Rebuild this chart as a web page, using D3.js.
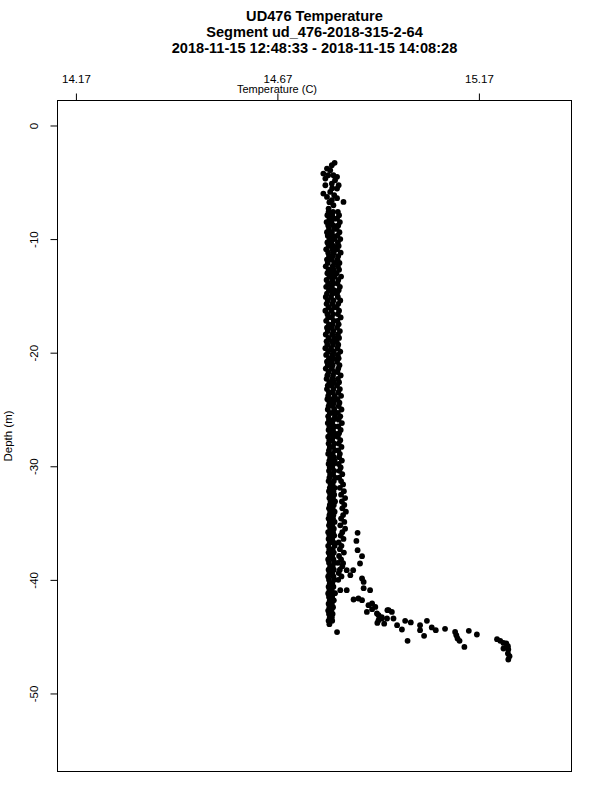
<!DOCTYPE html>
<html>
<head>
    <meta charset="utf-8">
    <style>
        body { margin: 0; background: #fff; }
        svg { display: block; font-family: 'Liberation Sans', Arial, sans-serif; }
        .title { font-weight: bold; font-size: 14.6px; }
        .axis text { font-size: 11.5px; fill: #000; }
    </style>
</head>
<body>
    <svg width="600" height="800"></svg>
<script src="https://d3js.org/d3.v7.min.js"></script>
<script>
    // chart text
    let titleLines = ["UD476 Temperature", "Segment ud_476-2018-315-2-64", "2018-11-15 12:48:33 - 2018-11-15 14:08:28"]
    let xLabel = "Temperature (C)"
    let yLabel = "Depth (m)"
    let tempTicks = [14.17, 14.67, 15.17]
    let depthTicks = [0, -10, -20, -30, -40, -50]

    // surface part of the cast: [depth, temperature]
    let topPoints = [
        [-3.29, 14.812], [-3.49, 14.805], [-3.79, 14.793], [-3.93, 14.801], [-4.23, 14.784],
        [-4.38, 14.796], [-4.38, 14.809], [-4.52, 14.818], [-4.67, 14.789], [-4.82, 14.813],
        [-5.11, 14.805], [-5.26, 14.789], [-5.26, 14.822], [-5.52, 14.806], [-5.55, 14.818],
        [-5.85, 14.801], [-5.99, 14.784], [-6.14, 14.811], [-6.29, 14.793], [-6.40, 14.818],
        [-6.58, 14.805], [-6.73, 14.834], [-6.75, 14.799], [-7.02, 14.809], [-7.31, 14.797]
    ]

    // mixed layer: depth then temperatures read at that depth
    let bandRows = [
        [-7.6, 14.797, 14.808, 14.820], [-7.9, 14.794, 14.806, 14.823], [-8.2, 14.799, 14.810, 14.818],
        [-8.5, 14.792, 14.804, 14.825], [-8.8, 14.796, 14.809, 14.821], [-9.1, 14.798, 14.812, 14.817],
        [-9.4, 14.793, 14.805, 14.824], [-9.7, 14.795, 14.807, 14.819], [-10.0, 14.799, 14.811, 14.826],
        [-10.3, 14.794, 14.804, 14.820], [-10.6, 14.797, 14.809, 14.822], [-10.9, 14.791, 14.806, 14.818],
        [-11.2, 14.796, 14.810, 14.827], [-11.5, 14.798, 14.808, 14.821], [-11.8, 14.793, 14.805, 14.819],
        [-12.1, 14.795, 14.811, 14.824], [-12.4, 14.790, 14.807, 14.820], [-12.7, 14.797, 14.809, 14.823],
        [-13.0, 14.794, 14.804, 14.817], [-13.3, 14.799, 14.812, 14.828], [-13.6, 14.792, 14.806, 14.821],
        [-13.9, 14.796, 14.808, 14.819], [-14.2, 14.791, 14.805, 14.825], [-14.5, 14.798, 14.810, 14.822],
        [-14.8, 14.793, 14.807, 14.818], [-15.1, 14.790, 14.803, 14.820], [-15.4, 14.795, 14.809, 14.826],
        [-15.7, 14.792, 14.806, 14.821], [-16.0, 14.797, 14.811, 14.817], [-16.3, 14.789, 14.804, 14.823],
        [-16.6, 14.794, 14.808, 14.820], [-16.9, 14.796, 14.805, 14.827], [-17.2, 14.791, 14.810, 14.819],
        [-17.5, 14.798, 14.807, 14.822], [-17.8, 14.793, 14.804, 14.818], [-18.1, 14.795, 14.809, 14.825],
        [-18.4, 14.790, 14.806, 14.820], [-18.7, 14.797, 14.811, 14.823], [-19.0, 14.792, 14.805, 14.817],
        [-19.3, 14.794, 14.808, 14.821], [-19.6, 14.789, 14.803, 14.819], [-19.9, 14.796, 14.810, 14.826],
        [-20.2, 14.791, 14.806, 14.820], [-20.5, 14.798, 14.809, 14.822], [-20.8, 14.793, 14.804, 14.818],
        [-21.1, 14.795, 14.807, 14.824], [-21.4, 14.790, 14.805, 14.821], [-21.7, 14.797, 14.811, 14.819],
        [-22.0, 14.794, 14.808, 14.827], [-22.3, 14.792, 14.806, 14.820], [-22.6, 14.799, 14.810, 14.823],
        [-22.9, 14.795, 14.805, 14.818], [-23.2, 14.793, 14.809, 14.825], [-23.5, 14.798, 14.807, 14.821],
        [-23.8, 14.796, 14.812, 14.828], [-24.1, 14.794, 14.806, 14.819], [-24.4, 14.799, 14.810, 14.824],
        [-24.7, 14.797, 14.808, 14.822], [-25.0, 14.795, 14.811, 14.829], [-25.3, 14.800, 14.807, 14.820],
        [-25.6, 14.796, 14.813, 14.826], [-25.9, 14.798, 14.809, 14.822], [-26.2, 14.795, 14.806, 14.830],
        [-26.5, 14.799, 14.811, 14.821], [-26.8, 14.797, 14.808, 14.827], [-27.1, 14.801, 14.812, 14.823],
        [-27.4, 14.796, 14.809, 14.820], [-27.7, 14.799, 14.806, 14.826], [-28.0, 14.797, 14.811, 14.822],
        [-28.3, 14.800, 14.808, 14.829], [-28.6, 14.798, 14.813, 14.821], [-28.9, 14.796, 14.807, 14.825],
        [-29.2, 14.801, 14.810, 14.823], [-29.5, 14.799, 14.812, 14.830], [-29.8, 14.797, 14.809, 14.822],
        [-30.1, 14.800, 14.806, 14.827], [-30.4, 14.798, 14.811, 14.824], [-30.7, 14.801, 14.808, 14.831],
        [-31.0, 14.799, 14.813, 14.823], [-31.3, 14.797, 14.810, 14.828], [-31.6, 14.802, 14.807, 14.833],
        [-31.9, 14.800, 14.812, 14.825], [-32.2, 14.798, 14.809, 14.835], [-32.5, 14.801, 14.811, 14.828],
        [-32.8, 14.799, 14.808, 14.838], [-33.1, 14.802, 14.813, 14.830], [-33.4, 14.800, 14.810, 14.836],
        [-33.7, 14.798, 14.807, 14.831], [-34.0, 14.801, 14.812, 14.840], [-34.3, 14.799, 14.809, 14.833],
        [-34.6, 14.797, 14.808, 14.828], [-34.9, 14.800, 14.812, 14.836], [-35.2, 14.798, 14.806, 14.826],
        [-35.5, 14.801, 14.810, 14.838], [-35.8, 14.796, 14.808, 14.831], [-36.1, 14.799, 14.811, 14.827],
        [-36.4, 14.797, 14.806, 14.834], [-36.7, 14.800, 14.809, 14.822], [-37.0, 14.796, 14.812, 14.829],
        [-37.3, 14.799, 14.807, 14.825], [-37.6, 14.797, 14.810, 14.835], [-37.9, 14.800, 14.806, 14.823],
        [-38.2, 14.796, 14.809, 14.828], [-38.5, 14.798, 14.812, 14.820], [-38.8, 14.801, 14.807, 14.831],
        [-39.1, 14.797, 14.810, 14.825], [-39.4, 14.799, 14.806, 14.822], [-39.7, 14.796, 14.809, 14.829],
        [-40.0, 14.798, 14.811, 14.821], [-40.3, 14.800, 14.806], [-40.6, 14.797, 14.809],
        [-40.9, 14.799, 14.805], [-41.2, 14.796, 14.808], [-41.5, 14.798, 14.806],
        [-41.8, 14.800, 14.810], [-42.1, 14.797, 14.805], [-42.4, 14.799, 14.808],
        [-42.7, 14.796, 14.804], [-43.0, 14.798, 14.807], [-43.3, 14.800, 14.805],
        [-43.6, 14.797, 14.806], [-43.9, 14.799], [-44.6, 14.818]
    ]

    // thermocline and warm bottom water: [depth, temperature]
    let bottomPoints = [
        [-35.86, 14.869], [-36.57, 14.866], [-37.39, 14.869], [-37.91, 14.880], [-38.56, 14.875],
        [-38.53, 14.833], [-39.15, 14.842], [-39.59, 14.851], [-39.15, 14.858], [-39.88, 14.880],
        [-40.18, 14.884], [-40.73, 14.884], [-40.91, 14.900], [-41.73, 14.859], [-41.64, 14.871],
        [-40.91, 14.842], [-40.91, 14.826], [-41.17, 14.813], [-41.79, 14.880], [-42.23, 14.896],
        [-42.58, 14.905], [-42.82, 14.892], [-42.96, 14.917], [-43.55, 14.921], [-43.40, 14.929],
        [-42.67, 14.943], [-42.08, 14.905], [-42.38, 14.913], [-43.11, 14.921], [-43.79, 14.918],
        [-43.28, 14.929], [-43.86, 14.935], [-42.67, 14.946], [-42.82, 14.954], [-43.40, 14.942],
        [-43.40, 14.958], [-43.99, 14.967], [-44.37, 14.979], [-43.61, 14.987], [-43.75, 15.001],
        [-45.37, 14.993], [-43.99, 15.024], [-44.43, 15.024], [-44.93, 15.034], [-43.61, 15.041],
        [-44.19, 15.053], [-44.43, 15.063], [-44.31, 15.086], [-44.58, 15.111], [-44.87, 15.114],
        [-45.16, 15.117], [-45.37, 15.122], [-45.90, 15.134], [-44.49, 15.145], [-44.81, 15.165],
        [-45.22, 15.215], [-45.37, 15.223], [-45.55, 15.231], [-45.60, 15.238], [-45.84, 15.242],
        [-46.13, 15.243], [-46.04, 15.231], [-46.48, 15.242], [-47.01, 15.243], [-46.72, 15.246]
    ]

    let points = topPoints.slice()
    bandRows.forEach(r => r.slice(1).forEach(t => points.push([r[0], t])))
    bottomPoints.forEach(p => points.push(p))

    let svg = d3.select("svg")
    let box = { left: 57.5, right: 571.5, top: 100.5, bottom: 771.5 }

    let x = d3.scaleLinear().domain([14.1243, 15.3998]).range([box.left, box.right])
    let y = d3.scaleLinear().domain([2.2, -56.87]).range([box.top, box.bottom])

    svg.append("g")
        .selectAll("text")
        .data(titleLines)
        .join("text")
        .attr("class", "title")
        .attr("x", 314.5)
        .attr("y", (d, i) => 21 + i * 16)
        .attr("text-anchor", "middle")
        .text(d => d)

    let xAxis = svg.append("g")
        .attr("class", "axis")
        .attr("transform", `translate(0,${box.top})`)
        .call(d3.axisTop(x).tickValues(tempTicks).tickFormat(d3.format(".2f")).tickSize(7).tickPadding(11))
    xAxis.select(".domain").remove()
    xAxis.selectAll("line").attr("stroke", "#000")

    let yAxis = svg.append("g")
        .attr("class", "axis")
        .attr("transform", `translate(${box.left},0)`)
        .call(d3.axisLeft(y).tickValues(depthTicks).tickFormat(d => d).tickSize(7))
    yAxis.select(".domain").remove()
    yAxis.selectAll("line").attr("stroke", "#000")
    yAxis.selectAll("text")
        .attr("x", 0)
        .attr("y", -20)
        .attr("dy", null)
        .attr("text-anchor", "middle")
        .attr("transform", "rotate(-90)")

    svg.append("text")
        .attr("x", 277)
        .attr("y", 93)
        .attr("text-anchor", "middle")
        .style("font-size", "11px")
        .text(xLabel)

    svg.append("text")
        .attr("transform", "translate(12,436) rotate(-90)")
        .attr("text-anchor", "middle")
        .style("font-size", "11.5px")
        .text(yLabel)

    svg.append("rect")
        .attr("x", box.left)
        .attr("y", box.top)
        .attr("width", box.right - box.left)
        .attr("height", box.bottom - box.top)
        .attr("fill", "none")
        .attr("stroke", "#000")

    svg.append("g")
        .selectAll("circle")
        .data(points)
        .join("circle")
        .attr("cx", d => x(d[1]))
        .attr("cy", d => y(d[0]))
        .attr("r", 2.9)
        .attr("fill", "#000")
</script>
</body>
</html>
